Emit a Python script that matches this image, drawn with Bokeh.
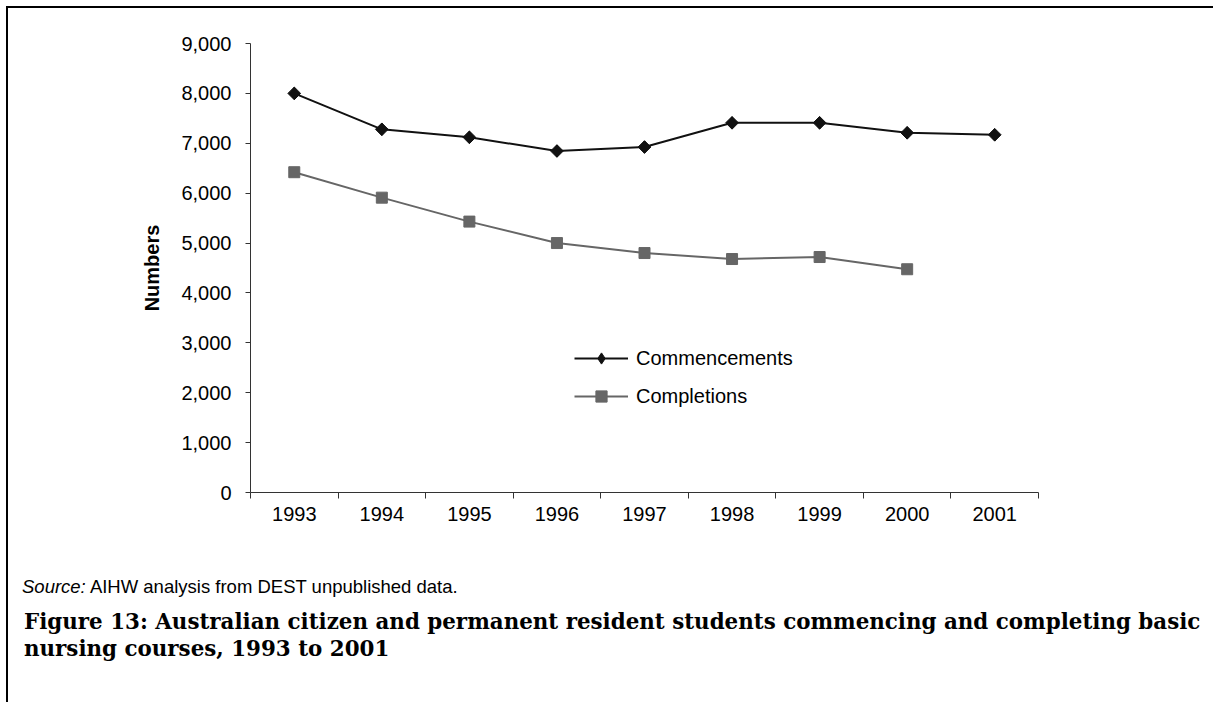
from bokeh.plotting import figure
from bokeh.layouts import column, row
from bokeh.models import (FixedTicker, NumeralTickFormatter, Legend, LegendItem,
                          Range1d, Div)
from bokeh.embed import file_html
from bokeh.resources import INLINE
import numpy as np

years = [1993, 1994, 1995, 1996, 1997, 1998, 1999, 2000, 2001]
commencements = [8000, 7280, 7120, 6845, 6925, 7410, 7410, 7210, 7170]
completion_years = [1993, 1994, 1995, 1996, 1997, 1998, 1999, 2000]
completions = [6420, 5910, 5430, 5000, 4800, 4680, 4720, 4475]
y_ticks = [0, 1000, 2000, 3000, 4000, 5000, 6000, 7000, 8000, 9000]

source_note = ("Source:", "AIHW analysis from DEST unpublished data.")
caption = ("Figure 13: Australian citizen and permanent resident students "
           "commencing and completing basic<br>nursing courses, 1993 to 2001")

FIG_W = 1203
FIG_H = 534
NOTE_H = 60
TITLE_H = 84
BODY_H = 694        # a little taller than its contents
CLIP = {"overflow": "hidden"}

p = figure(width=FIG_W, height=FIG_H, output_backend="svg", toolbar_location=None,
           x_range=Range1d(years[0] - 0.5, years[-1] + 0.5),
           y_range=Range1d(0, 9000),
           min_border_left=242, min_border_right=FIG_W - 1030,
           min_border_top=35, min_border_bottom=50)
p.outline_line_color = None
p.grid.visible = False
p.background_fill_color = "white"
p.border_fill_color = "white"

# category-style x axis: labels at each year, ticks between years
xa = p.xaxis[0]
xa.ticker = FixedTicker(ticks=years,
                        minor_ticks=[y - 0.5 for y in years] + [years[-1] + 0.5])
xa.major_tick_out = 0
xa.major_tick_in = 0
xa.minor_tick_out = 6
xa.minor_tick_in = 0
xa.minor_tick_line_color = "#333333"
xa.axis_line_color = "#333333"
xa.major_label_text_font = "Liberation Sans"
xa.major_label_text_font_size = "20px"
xa.major_label_text_color = "black"
xa.major_label_standoff = 8

ya = p.yaxis[0]
ya.ticker = FixedTicker(ticks=y_ticks)
ya.formatter = NumeralTickFormatter(format="0,0")
ya.major_tick_out = 5
ya.major_tick_in = 0
ya.minor_tick_line_color = None
ya.major_tick_line_color = "#333333"
ya.axis_line_color = "#333333"
ya.major_label_text_font = "Liberation Sans"
ya.major_label_text_font_size = "20px"
ya.major_label_text_color = "black"
ya.major_label_standoff = 14
ya.axis_label = "Numbers"
ya.axis_label_text_font = "Liberation Sans"
ya.axis_label_text_font_style = "bold"
ya.axis_label_text_font_size = "20px"
ya.axis_label_text_color = "black"
ya.axis_label_standoff = 15

# series
l1 = p.line(years, commencements, line_color="#111111", line_width=2)
# upright diamonds (used as legend key) sit under the rotated-square markers
key1 = p.scatter(years, commencements, marker="diamond", size=12,
                 fill_color="#111111", line_color="#111111")
m1 = p.scatter(years, commencements, marker="square", angle=np.pi / 4, size=9,
               fill_color="#111111", line_color="#111111")
l2 = p.line(completion_years, completions, line_color="#666666", line_width=2)
m2 = p.scatter(completion_years, completions, marker="square", size=11,
               fill_color="#666666", line_color="#666666")

legend = Legend(items=[LegendItem(label="Commencements", renderers=[l1, key1]),
                       LegendItem(label="Completions", renderers=[l2, m2])],
                location=(324, 82), margin=0, padding=0, spacing=10,
                glyph_width=54, glyph_height=28, label_height=28,
                label_standoff=8, border_line_color=None,
                background_fill_alpha=0,
                label_text_font="Liberation Sans", label_text_font_size="20px",
                label_text_color="black")
p.add_layout(legend, "center")

note = Div(width=FIG_W, height=NOTE_H, margin=0, styles=CLIP,
           text=('<div style="font-family:\'Liberation Sans\';font-size:18.5px;'
                 'line-height:21px;padding-top:34px;padding-left:14px;color:black;'
                 'white-space:nowrap">'
                 f'<i>{source_note[0]}</i> {source_note[1]}</div>'))

title = Div(width=FIG_W, height=TITLE_H, margin=0, styles=CLIP,
            text=('<div style="font-family:\'DejaVu Serif\';font-size:21.4px;'
                  'font-weight:bold;line-height:27px;padding-top:6px;'
                  'padding-left:16px;color:black;white-space:nowrap">'
                  f'{caption}</div>'))

# page rules: one along the top, one down the left side
top_rule = Div(text="", width=FIG_W + 4, height=2, margin=0,
               styles={"background-color": "black"})
left_rule = Div(text="", width=2, height=BODY_H, margin=0,
                styles={"background-color": "black"})

body = column(p, note, title, spacing=0, margin=0, height=BODY_H, styles=CLIP)
page = column(top_rule, row(left_rule, body, spacing=0, margin=0, styles=CLIP),
              spacing=0, margin=(6, 0, 0, 6), styles=CLIP)

open("out.html", "w").write(file_html(page, INLINE))
